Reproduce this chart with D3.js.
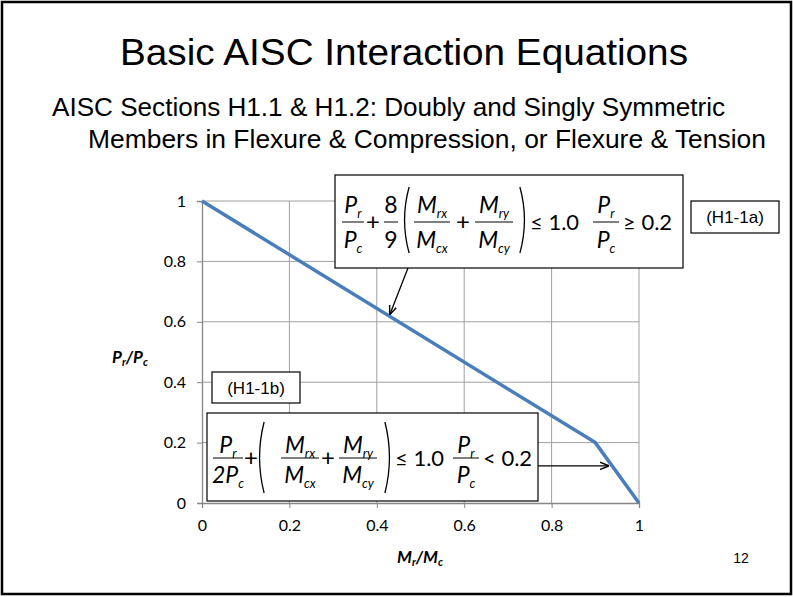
<!DOCTYPE html>
<html>
<head>
<meta charset="utf-8">
<script src="https://cdn.jsdelivr.net/npm/d3@7"></script>
<style>
  body { margin: 0; background: #fff; }
  svg { display: block; }
</style>
</head>
<body>
<div id="viz"></div>
<script>
// slide size
var width = 793;
var height = 597;

// data: interaction curve (Mr/Mc, Pr/Pc)
var mRatio = [0, 0.9, 1];
var pRatio = [1, 0.2, 0];
var xTicks = [0, 0.2, 0.4, 0.6, 0.8, 1];
var yTicks = [0, 0.2, 0.4, 0.6, 0.8, 1];

var titleText = "Basic AISC Interaction Equations";
var subLines = [
  "AISC Sections H1.1 & H1.2: Doubly and Singly Symmetric",
  "Members in Flexure & Compression, or Flexure & Tension"
];
var pageNum = "12";

var plot = { l: 202, r: 639, t: 201, b: 503 };
var eqFont = "Lato, 'Open Sans', sans-serif";
var slideFont = "'Liberation Sans', Arial, sans-serif";

var svg = d3.select('#viz').append('svg')
  .attr('width', width)
  .attr('height', height);

// slide frame
svg.append('rect')
  .attr('x', 2).attr('y', 2)
  .attr('width', width - 4).attr('height', height - 5)
  .attr('fill', '#fff')
  .attr('stroke', '#000')
  .attr('stroke-width', 2.5);

// title + subtitle
svg.append('text')
  .attr('x', 120).attr('y', 65)
  .attr('textLength', 568).attr('lengthAdjust', 'spacingAndGlyphs')
  .style('font-family', slideFont)
  .style('font-size', '36px')
  .text(titleText);

svg.append('text')
  .attr('x', 52).attr('y', 116)
  .attr('textLength', 673).attr('lengthAdjust', 'spacingAndGlyphs')
  .style('font-family', slideFont)
  .style('font-size', '25px')
  .text(subLines[0]);
svg.append('text')
  .attr('x', 88).attr('y', 148)
  .attr('textLength', 678).attr('lengthAdjust', 'spacingAndGlyphs')
  .style('font-family', slideFont)
  .style('font-size', '25px')
  .text(subLines[1]);

// scales
var x = d3.scaleLinear().domain([0, 1]).range([plot.l, plot.r]);
var y = d3.scaleLinear().domain([0, 1]).range([plot.b, plot.t]);

var g = svg.append('g');

// gridlines
g.selectAll('.vgrid').data(xTicks.slice(1)).enter().append('line')
  .attr('x1', d => x(d)).attr('x2', d => x(d))
  .attr('y1', plot.t).attr('y2', plot.b)
  .attr('stroke', '#a0a0a0').attr('stroke-width', 1);
g.selectAll('.hgrid').data(yTicks.slice(1)).enter().append('line')
  .attr('x1', plot.l).attr('x2', plot.r)
  .attr('y1', d => y(d)).attr('y2', d => y(d))
  .attr('stroke', '#a0a0a0').attr('stroke-width', 1);

// axes
var xAxis = d3.axisBottom(x).tickValues(xTicks).tickSize(5).tickPadding(12)
  .tickFormat(d3.format('~g'));
var yAxis = d3.axisLeft(y).tickValues(yTicks).tickSize(5).tickPadding(11)
  .tickFormat(d3.format('~g'));

var gx = g.append('g').attr('transform', `translate(0,${plot.b})`).call(xAxis);
var gy = g.append('g').attr('transform', `translate(${plot.l},0)`).call(yAxis);
[gx, gy].forEach(function(a) {
  a.select('.domain').attr('stroke', '#868686').attr('stroke-width', 1.3);
  a.selectAll('.tick line').attr('stroke', '#868686');
  a.selectAll('.tick text')
    .style('font-family', eqFont)
    .style('font-size', '16px')
    .attr('fill', '#000');
});

// axis titles
function ratioLabel(tx, ty, a, b) {
  var t = svg.append('text')
    .attr('x', tx).attr('y', ty)
    .attr('text-anchor', 'middle')
    .style('font-family', eqFont)
    .style('font-size', '17px')
    .style('font-weight', 'bold')
    .style('font-style', 'italic');
  t.append('tspan').text(a);
  t.append('tspan').attr('dy', 3).style('font-size', '11px').text('r');
  t.append('tspan').attr('dy', -3).text('/' + b);
  t.append('tspan').attr('dy', 3).style('font-size', '11px').text('c');
}
ratioLabel(420, 563, 'M', 'M');
ratioLabel(130, 363, 'P', 'P');

// page number
svg.append('text')
  .attr('x', 741).attr('y', 563)
  .attr('text-anchor', 'middle')
  .style('font-family', slideFont)
  .style('font-size', '14px')
  .text(pageNum);

// interaction line
var line = d3.line().x((d, i) => x(mRatio[i])).y(d => y(d));
g.append('path')
  .datum(pRatio)
  .attr('d', line)
  .attr('fill', 'none')
  .attr('stroke', '#4a7ebb')
  .attr('stroke-width', 3.5)
  .attr('stroke-linejoin', 'round');

// arrow marker
svg.append('defs').append('marker')
  .attr('id', 'arr')
  .attr('viewBox', '0 0 10 10')
  .attr('refX', 9).attr('refY', 5)
  .attr('markerWidth', 7).attr('markerHeight', 7)
  .attr('orient', 'auto')
  .append('path')
  .attr('d', 'M0,1 L10,5 L0,9')
  .attr('fill', 'none')
  .attr('stroke', '#000')
  .attr('stroke-width', 1.6);

// --- equation helpers ---
function term(sel, main, sub, size) {
  sel.append('tspan').text(main);
  if (sub) sel.append('tspan').attr('dy', size * 0.22)
    .style('font-size', (size * 0.55) + 'px').text(sub);
}
function frac(box, cx, half, num, den, opt) {
  var size = opt.size;
  var tn = box.append('text').attr('x', cx).attr('y', opt.numY)
    .attr('text-anchor', 'middle')
    .style('font-family', eqFont).style('font-size', size + 'px')
    .style('font-style', opt.upright ? 'normal' : 'italic');
  term(tn, num[0], num[1], size);
  var td = box.append('text').attr('x', cx).attr('y', opt.denY)
    .attr('text-anchor', 'middle')
    .style('font-family', eqFont).style('font-size', size + 'px')
    .style('font-style', opt.upright ? 'normal' : 'italic');
  term(td, den[0], den[1], size);
  box.append('line')
    .attr('x1', cx - half).attr('x2', cx + half)
    .attr('y1', opt.barY).attr('y2', opt.barY)
    .attr('stroke', '#000').attr('stroke-width', 1);
}
function sym(box, tx, ty, s, size, anchor) {
  box.append('text').attr('x', tx).attr('y', ty)
    .attr('text-anchor', anchor || 'middle')
    .style('font-family', eqFont).style('font-size', size + 'px')
    .attr('fill', '#000')
    .text(s);
}
function paren(box, px, top, bot, left) {
  var bend = left ? -7 : 7;
  box.append('path')
    .attr('d', `M${px - bend * 0.3},${top} Q${px + bend},${(top + bot) / 2} ${px - bend * 0.3},${bot}`)
    .attr('fill', 'none').attr('stroke', '#000').attr('stroke-width', 1.3);
}

// box 1: H1-1a
var b1 = svg.append('g').attr('transform', 'translate(335,175)');
b1.append('rect').attr('width', 348).attr('height', 93)
  .attr('fill', '#fff').attr('stroke', '#000').attr('stroke-width', 1.2);
var o1 = { size: 23, numY: 38, barY: 47, denY: 73 };
frac(b1, 18, 11, ['P', 'r'], ['P', 'c'], o1);
sym(b1, 38, 55, '+', 24);
frac(b1, 56, 7, ['8'], ['9'], Object.assign({}, o1, { upright: true }));
paren(b1, 72, 12, 78, true);
frac(b1, 97, 18, ['M', 'rx'], ['M', 'cx'], o1);
sym(b1, 128, 55, '+', 24);
frac(b1, 159, 19, ['M', 'ry'], ['M', 'cy'], o1);
paren(b1, 187, 12, 78, false);
sym(b1, 195, 55, '\u2264 1.0', 22, 'start');
frac(b1, 271, 13, ['P', 'r'], ['P', 'c'], o1);
sym(b1, 288, 55, '\u2265 0.2', 22, 'start');

// label H1-1a
var l1 = svg.append('g').attr('transform', 'translate(691,201)');
l1.append('rect').attr('width', 88).attr('height', 32)
  .attr('fill', '#fff').attr('stroke', '#000').attr('stroke-width', 1.2);
l1.append('text').attr('x', 44).attr('y', 22).attr('text-anchor', 'middle')
  .style('font-family', slideFont).style('font-size', '17px')
  .text('(H1-1a)');

// label H1-1b
var l2 = svg.append('g').attr('transform', 'translate(212,372)');
l2.append('rect').attr('width', 88).attr('height', 31)
  .attr('fill', '#fff').attr('stroke', '#000').attr('stroke-width', 1.2);
l2.append('text').attr('x', 44).attr('y', 22).attr('text-anchor', 'middle')
  .style('font-family', slideFont).style('font-size', '17px')
  .text('(H1-1b)');

// box 2: H1-1b
var b2 = svg.append('g').attr('transform', 'translate(207,413)');
b2.append('rect').attr('width', 331).attr('height', 88)
  .attr('fill', '#fff').attr('stroke', '#000').attr('stroke-width', 1.2);
var o2 = { size: 23, numY: 40, barY: 45, denY: 70 };
frac(b2, 21, 15, ['P', 'r'], ['2P', 'c'], o2);
sym(b2, 44, 53, '+', 24);
paren(b2, 55, 9, 80, true);
frac(b2, 93, 19, ['M', 'rx'], ['M', 'cx'], o2);
sym(b2, 121, 53, '+', 24);
frac(b2, 151, 19, ['M', 'ry'], ['M', 'cy'], o2);
paren(b2, 180, 9, 80, false);
sym(b2, 188, 53, '\u2264 1.0', 22, 'start');
frac(b2, 259, 13, ['P', 'r'], ['P', 'c'], o2);
sym(b2, 276, 53, '< 0.2', 22, 'start');

// arrows to the curve
var t1x = 0.428, t1y = 1 - (1 - 0.2) / 0.9 * t1x;
svg.append('line')
  .attr('x1', 408).attr('y1', 268)
  .attr('x2', x(t1x) + 1).attr('y2', y(t1y) - 2)
  .attr('stroke', '#000').attr('stroke-width', 1.3)
  .attr('marker-end', 'url(#arr)');
var t2y = 0.123, t2x = 0.9 + (0.2 - t2y) / 0.2 * 0.1;
svg.append('line')
  .attr('x1', 538).attr('y1', y(t2y))
  .attr('x2', x(t2x) - 4).attr('y2', y(t2y))
  .attr('stroke', '#000').attr('stroke-width', 1.3)
  .attr('marker-end', 'url(#arr)');
</script>
</body>
</html>
